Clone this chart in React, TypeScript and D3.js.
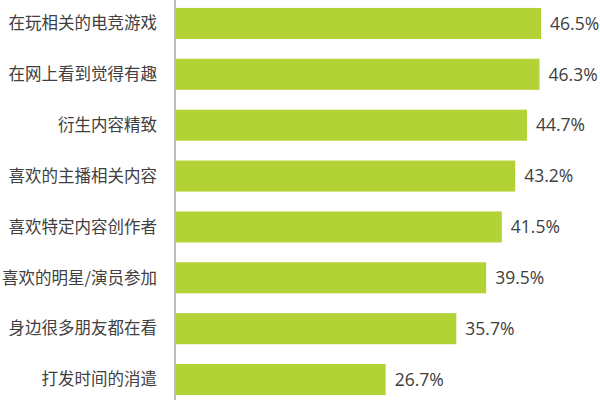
import React from 'react';
import * as d3 from 'd3';

const categories = [
  '在玩相关的电竞游戏',
  '在网上看到觉得有趣',
  '衍生内容精致',
  '喜欢的主播相关内容',
  '喜欢特定内容创作者',
  '喜欢的明星/演员参加',
  '身边很多朋友都在看',
  '打发时间的消遣',
];
const values = [46.5, 46.3, 44.7, 43.2, 41.5, 39.5, 35.7, 26.7];

const width = 600;
const height = 400;
const axisX = 175;

export default function App() {
  const x = d3.scaleLinear().domain([0, 54]).range([axisX + 1, 600]);
  const y = d3
    .scaleBand<string>()
    .domain(categories)
    .range([-2, 405])
    .paddingInner(0.39)
    .paddingOuter(0.195);

  return (
    <svg
      width={width}
      height={height}
      style={{ position: 'absolute', left: 0, top: 0, background: '#fff' }}
    >
      {categories.map((c, i) => {
        const yc = y(c)! + y.bandwidth() / 2;
        return (
          <g key={c}>
            <rect
              x={x(0)}
              y={y(c)}
              width={x(values[i]) - x(0)}
              height={y.bandwidth()}
              fill="#b2d235"
            />
            <text
              x={157}
              y={yc}
              dy="0.35em"
              textAnchor="end"
              fontSize={16.5}
              fill="#404040"
              fontFamily="'Noto Sans CJK SC', sans-serif"
            >
              {c}
            </text>
            <text
              x={x(values[i]) + 9}
              y={yc}
              dy="0.36em"
              fontSize={17.5}
              fill="#404040"
              fontFamily="'Open Sans', 'DejaVu Sans', sans-serif"
            >
              {values[i].toFixed(1)}%
            </text>
          </g>
        );
      })}
      <line x1={axisX} x2={axisX} y1={0} y2={height} stroke="#a6a6a6" strokeWidth={1.5} />
    </svg>
  );
}
